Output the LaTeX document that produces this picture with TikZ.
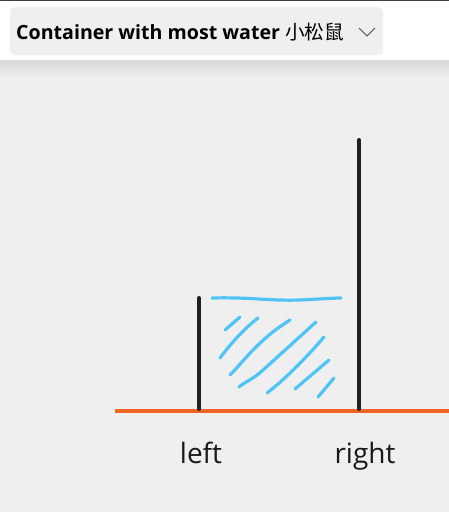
\documentclass[tikz,border=0pt]{standalone}
\usepackage{fontspec}
\setmainfont{Open Sans}
\newfontfamily\cjk{Noto Sans CJK SC}
\definecolor{waterc}{RGB}{80,196,245}
\definecolor{groundc}{RGB}{240,100,40}
\definecolor{bgc}{RGB}{239,239,239}
\begin{document}
\begin{tikzpicture}[x=1pt,y=-1pt,
  wall/.style={line width=4pt,color=black!88,line cap=round},
  water/.style={line width=3.2pt,color=waterc,line cap=round,line join=round},
  ground/.style={line width=4.2pt,color=groundc},
  lbl/.style={font=\fontsize{28}{32}\selectfont,text=black!90,inner sep=0pt}]
\useasboundingbox (0,0) rectangle (449,512);
\fill[bgc] (0,0) rectangle (449,512);
\fill[white] (0,0) rectangle (449,60);
\shade[top color=gray!30,bottom color=bgc] (0,60) rectangle (449,78);
\draw[black!75,line width=1.2pt] (0,0.6) -- (449,0.6);
\fill[bgc,rounded corners=5pt] (10,7) rectangle (383,55);
\node[anchor=base west,inner sep=0pt,font=\fontsize{19.6}{22}\selectfont\bfseries] (title) at (16,39) {Container with most water {\cjk\mdseries 小松鼠}};
\draw[black!70,line width=1pt] (359,28) -- (367,36) -- (375,28);
% ground and walls
\draw[ground] (115,411) -- (449,411);
\draw[wall] (199,298) -- (199,409);
\draw[wall] (359,140) -- (359,409);
% water
\draw[water] (212,298) .. controls (250,297) and (270,301) .. (300,300) .. controls (320,299) and (335,298) .. (341,298);
\draw[water] (225,330) -- (240,317);
\draw[water] (220,358) .. controls (232,342) and (245,328) .. (258,318);
\draw[water] (230,375) .. controls (245,360) and (258,340) .. (290,320);
\draw[water] (239,387) .. controls (246,381) and (252,380) .. (262,371) -- (316,322);
\draw[water] (267,393) .. controls (280,383) and (300,365) .. (324,337);
\draw[water] (295,389) -- (329,360);
\draw[water] (318,397) -- (334,378);
% labels
\node[lbl,anchor=base] (left) at (201,463) {left};
\node[lbl,anchor=base] (right) at (365,463) {right};
\end{tikzpicture}
\end{document}
